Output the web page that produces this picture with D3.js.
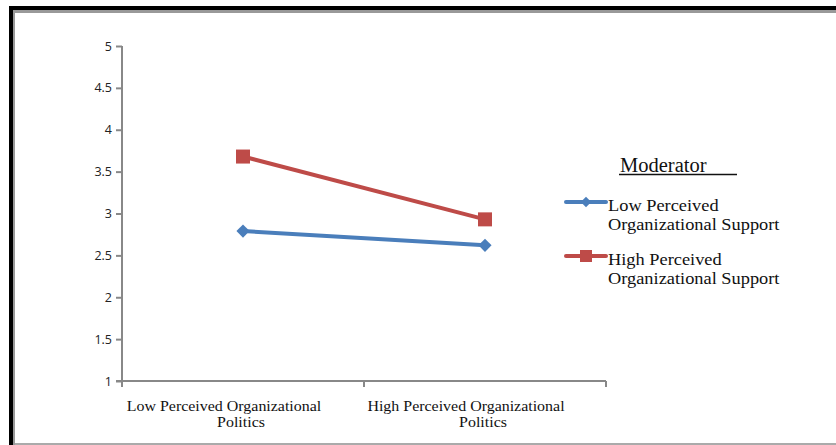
<!DOCTYPE html>
<html>
<head>
<meta charset="utf-8">
<script src="https://cdn.jsdelivr.net/npm/d3@7"></script>
<style>
  body { margin: 0; background: #fff; }
  .axis path, .axis line { stroke: #888; stroke-width: 2px; }
</style>
</head>
<body>
<svg width="836" height="445"></svg>
<script>
// categories and series
var categories = ["Low Perceived Organizational|Politics", "High Perceived Organizational|Politics"];
var lowPOS = [2.79, 2.62];
var highPOS = [3.68, 2.93];
var seriesNames = ["Low Perceived|Organizational Support", "High Perceived|Organizational Support"];
var yTicks = [1, 1.5, 2, 2.5, 3, 3.5, 4, 4.5, 5];

var serif = "Liberation Serif, Times New Roman, serif";
var svg = d3.select("svg"),
  margin = {top: 46, right: 230, bottom: 64, left: 122},
  width = 484,
  height = 335;

// frame
svg.append("rect").attr("x", 9).attr("y", 6).attr("width", 840).attr("height", 4).attr("fill", "#000");
svg.append("rect").attr("x", 9).attr("y", 6).attr("width", 4).attr("height", 445).attr("fill", "#000");
svg.append("rect").attr("x", 13).attr("y", 10).attr("width", 830).attr("height", 3).attr("fill", "#999");
svg.append("rect").attr("x", 13).attr("y", 10).attr("width", 2).attr("height", 440).attr("fill", "#999");
svg.append("rect").attr("x", 15).attr("y", 443).attr("width", 830).attr("height", 2).attr("fill", "#aaa");

var g = svg.append("g").attr("transform", "translate(" + margin.left + "," + margin.top + ")");

var x = d3.scaleBand().domain(categories).range([0, width]).paddingInner(0).paddingOuter(0);
var y = d3.scaleLinear().domain([1, 5]).range([height, 0]);

// y axis
g.append("g")
  .attr("class", "axis")
  .call(d3.axisLeft(y).tickValues(yTicks).tickSize(6).tickPadding(4).tickFormat(d3.format("")))
  .call(function(a) {
    a.select(".domain").attr("d", "M0,0V" + height);
    a.selectAll(".tick text")
      .attr("font-family", "Open Sans, DejaVu Sans, sans-serif")
      .attr("font-size", 12.5).attr("fill", "#222");
  });

// x axis with ticks between categories
var xa = g.append("g").attr("class", "axis").attr("transform", "translate(0," + height + ")");
xa.append("line").attr("x1", -6).attr("x2", width).attr("y1", 0).attr("y2", 0);
[0, width / 2, width].forEach(function(t) {
  xa.append("line").attr("x1", t).attr("x2", t).attr("y1", 0).attr("y2", 6);
});
categories.forEach(function(c) {
  var cx = x(c) + x.bandwidth() / 2;
  var parts = c.split("|");
  [[parts[0], cx - 19, 30], [parts[1], cx - 2, 46]].forEach(function(p) {
    xa.append("text")
      .attr("transform", "translate(" + p[1] + "," + p[2] + ") scale(1.1,1)")
      .attr("text-anchor", "middle")
      .attr("font-family", serif).attr("font-size", 14.5).attr("fill", "#111")
      .text(p[0]);
  });
});

var line = d3.line()
  .x(function(d, i) { return x(categories[i]) + x.bandwidth() / 2; })
  .y(function(d) { return y(d); });

var blue = "#4A7EBB", red = "#BE4B48";

g.append("path").datum(lowPOS).attr("d", line)
  .attr("fill", "none").attr("stroke", blue).attr("stroke-width", 4);
g.append("path").datum(highPOS).attr("d", line)
  .attr("fill", "none").attr("stroke", red).attr("stroke-width", 4);

var diamond = d3.symbol().type(d3.symbolDiamond2).size(110);
g.selectAll(".dm").data(lowPOS).enter().append("path")
  .attr("d", diamond)
  .attr("transform", function(d, i) { return "translate(" + (x(categories[i]) + x.bandwidth() / 2) + "," + y(d) + ")"; })
  .attr("fill", blue);
g.selectAll(".sq").data(highPOS).enter().append("rect")
  .attr("x", function(d, i) { return x(categories[i]) + x.bandwidth() / 2 - 7; })
  .attr("y", function(d) { return y(d) - 7; })
  .attr("width", 14).attr("height", 14)
  .attr("fill", red);

// legend
var leg = svg.append("g");
leg.append("text").attr("x", 620).attr("y", 172).attr("font-family", serif)
  .attr("font-size", 20.5).attr("fill", "#111").text("Moderator");
leg.append("line").attr("x1", 619).attr("x2", 737).attr("y1", 174.5).attr("y2", 174.5)
  .attr("stroke", "#111").attr("stroke-width", 1.3);

[{name: seriesNames[0], color: blue, y: 202, shape: "d"},
 {name: seriesNames[1], color: red, y: 256, shape: "s"}].forEach(function(s) {
  leg.append("line").attr("x1", 566).attr("x2", 606).attr("y1", s.y).attr("y2", s.y)
    .attr("stroke", s.color).attr("stroke-width", 4).attr("stroke-linecap", "round");
  if (s.shape === "d") {
    leg.append("path").attr("d", d3.symbol().type(d3.symbolDiamond2).size(70))
      .attr("transform", "translate(586," + s.y + ")").attr("fill", s.color);
  } else {
    leg.append("rect").attr("x", 580).attr("y", s.y - 6).attr("width", 12).attr("height", 12).attr("fill", s.color);
  }
  var parts = s.name.split("|");
  [[parts[0], s.y + 9], [parts[1], s.y + 28]].forEach(function(p) {
    leg.append("text")
      .attr("transform", "translate(608," + p[1] + ") scale(1.08,1)")
      .attr("font-family", serif).attr("font-size", 17).attr("fill", "#111")
      .text(p[0]);
  });
});
</script>
</body>
</html>
